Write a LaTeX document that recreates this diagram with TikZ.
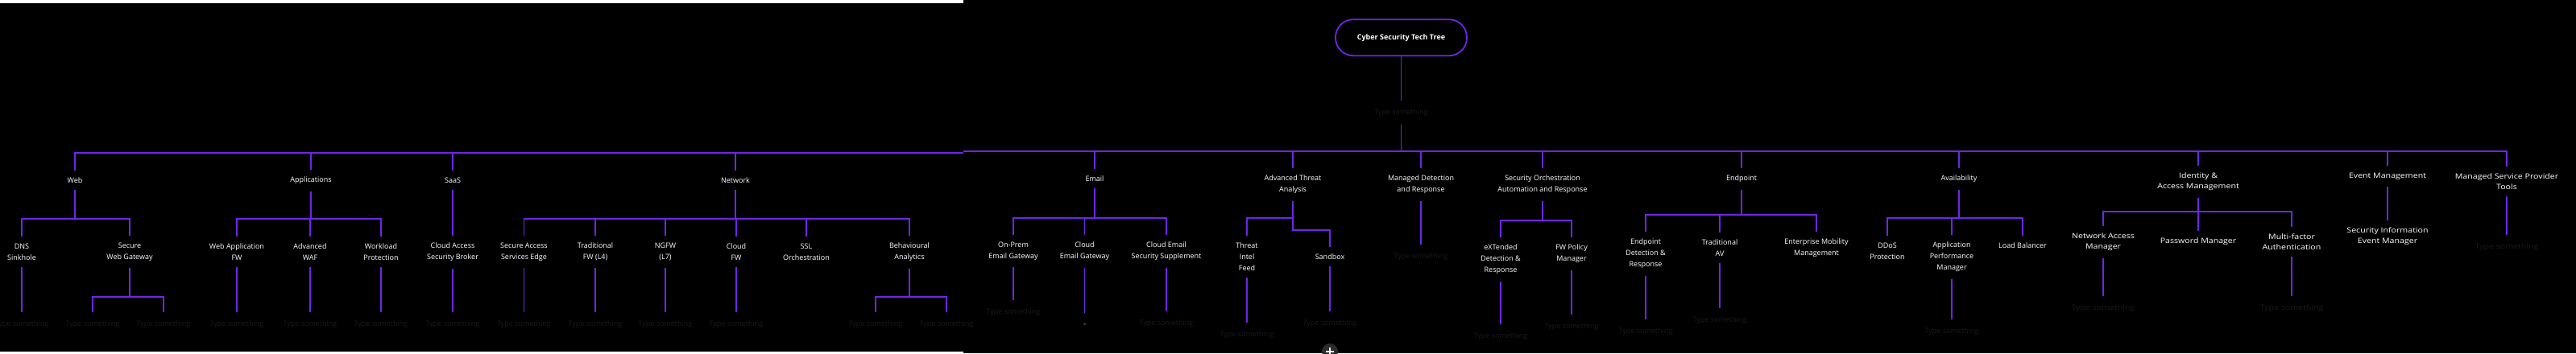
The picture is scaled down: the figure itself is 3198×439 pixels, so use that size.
\documentclass[tikz,border=0pt]{standalone}
\usepackage{fontspec}
\setmainfont{Open Sans}
\newfontfamily\widefont[FakeStretch=1.18]{Open Sans}
\definecolor{vio}{RGB}{110,38,230}
\definecolor{tsgray}{RGB}{26,26,26}
\definecolor{btngray}{RGB}{44,44,44}
\tikzset{
  lbl/.style={text=white, font=\fontsize{9}{14}\selectfont, align=center, inner xsep=2pt, inner ysep=9pt, outer sep=0pt},
  wlbl/.style={lbl, font=\widefont\fontsize{9}{13}\selectfont},
  ts/.style={text=tsgray, font=\fontsize{9}{14}\selectfont, inner xsep=2pt, inner ysep=10.5pt, outer sep=0pt},
  wts/.style={ts, font=\widefont\fontsize{9}{13}\selectfont},
  conn/.style={draw=vio, line width=1.6pt},
  rootbox/.style={draw=vio, line width=1.8pt, rounded corners=22pt, minimum width=163pt, minimum height=45pt, text=white, font=\bfseries\fontsize{9}{11}\selectfont, inner sep=0pt, outer sep=0pt},
  caret/.style={fill=btngray, minimum size=3pt, inner sep=0pt, outer ysep=12pt}
}
\begin{document}
\begin{tikzpicture}[x=1pt,y=-1pt]
\useasboundingbox (0,0) rectangle (3198,439);
\fill[black] (0,0) rectangle (3198,439);
\fill[white] (0,0) rectangle (1196,4);
\fill[white] (0,437) rectangle (1196,439);

% root
\node[rootbox] (root) at (1739.5,46.7) {Cyber Security Tech Tree};
\node[ts] (t0) at (1739.5,140) {Type something};
\coordinate (hub) at (1739.5,188);
\coordinate (jR) at (1196,188);
\coordinate (jL) at (1196,190);
\draw[conn] (root) -- (t0);
\draw[conn] (t0) -- (hub);
\draw[conn] (jR) -- (hub);

% ---------- left part ----------
\node[lbl] (web) at (93,224) {Web};
\node[lbl] (dns) at (27,313) {DNS\\Sinkhole};
\node[lbl] (swg) at (161,313) {Secure\\Web Gateway};
\node[ts] (t1) at (27,403) {Type something};
\node[ts] (t2) at (115,403) {Type something};
\node[ts] (t3) at (203,403) {Type something};

\node[lbl] (apps) at (386,224) {Applications};
\node[lbl] (wafw) at (294,313) {Web Application\\FW};
\node[lbl] (awaf) at (385,313) {Advanced\\WAF};
\node[lbl] (wlp) at (473,313) {Workload\\Protection};
\node[ts] (t4) at (294,403) {Type something};
\node[ts] (t5) at (385,403) {Type something};
\node[ts] (t6) at (473,403) {Type something};

\node[lbl] (saas) at (562,224) {SaaS};
\node[lbl] (casb) at (562,313) {Cloud Access\\Security Broker};
\node[ts] (t7) at (562,403) {Type something};

\node[lbl] (net) at (913,224) {Network};
\node[lbl] (sase) at (650.5,313) {Secure Access\\Services Edge};
\node[lbl] (tfw) at (739,313) {Traditional\\FW (L4)};
\node[lbl] (ngfw) at (826,313) {NGFW\\(L7)};
\node[lbl] (cfw) at (914,313) {Cloud\\FW};
\node[lbl] (ssl) at (1001,313) {SSL\\Orchestration};
\node[lbl] (ba) at (1129,313) {Behavioural\\Analytics};
\node[ts] (t8) at (650.5,403) {Type something};
\node[ts] (t9) at (739,403) {Type something};
\node[ts] (t10) at (826,403) {Type something};
\node[ts] (t11) at (914,403) {Type something};
\node[ts] (t12) at (1087,403) {Type something};
\node[ts] (t13) at (1175,403) {Type something};

\foreach \n in {web,apps,saas,net} \draw[conn] (\n.north) |- (jL);

\coordinate (webJ) at (93,272);
\draw[conn] (web) -- (webJ);
\draw[conn] (dns.north) |- (webJ);
\draw[conn] (swg.north) |- (webJ);
\draw[conn] (dns) -- (t1);
\coordinate (swgJ) at (161,369);
\draw[conn] (swg) -- (swgJ);
\draw[conn] (t2.north) |- (swgJ);
\draw[conn] (t3.north) |- (swgJ);

\coordinate (appsJ) at (386,272);
\draw[conn] (apps) -- (appsJ);
\foreach \n in {wafw,awaf,wlp} \draw[conn] (\n.north) |- (appsJ);
\draw[conn] (wafw) -- (t4);
\draw[conn] (awaf) -- (t5);
\draw[conn] (wlp) -- (t6);

\draw[conn] (saas) -- (casb);
\draw[conn] (casb) -- (t7);

\coordinate (netJ) at (913,272);
\draw[conn] (net) -- (netJ);
\foreach \n in {sase,tfw,ngfw,cfw,ssl,ba} \draw[conn] (\n.north) |- (netJ);
\draw[conn] (sase) -- (t8);
\draw[conn] (tfw) -- (t9);
\draw[conn] (ngfw) -- (t10);
\draw[conn] (cfw) -- (t11);
\coordinate (baJ) at (1129,369);
\draw[conn] (ba) -- (baJ);
\draw[conn] (t12.north) |- (baJ);
\draw[conn] (t13.north) |- (baJ);

% ---------- middle part ----------
\node[lbl] (email) at (1359,222) {Email};
\node[lbl] (onprem) at (1258,312) {On-Prem\\Email Gateway};
\node[lbl] (ceg) at (1346.5,312) {Cloud\\Email Gateway};
\node[lbl] (cess) at (1448,312) {Cloud Email\\Security Supplement};
\node[ts] (t14) at (1258,388) {Type something};
\node[caret] (cegc) at (1346.5,402) {};
\node[ts] (t15) at (1448,402) {Type something};

\node[lbl] (ata) at (1605,229.5) {Advanced Threat\\Analysis};
\node[lbl] (tif) at (1548,319) {Threat\\Intel\\Feed};
\node[lbl] (sandbox) at (1651,319) {Sandbox};
\node[ts] (t16) at (1548,416) {Type something};
\node[ts] (t17) at (1651,402) {Type something};

\node[lbl] (mdr) at (1764,229.5) {Managed Detection\\and Response};
\node[ts] (t18) at (1764,319) {Type something};

\node[lbl] (soar) at (1915,229.5) {Security Orchestration\\Automation and Response};
\node[lbl] (xdr) at (1863,322) {eXTended\\Detection \&\\Response};
\node[lbl] (fwpm) at (1951,315) {FW Policy\\Manager};
\node[ts] (t19) at (1863,418) {Type something};
\node[ts] (t20) at (1951,406) {Type something};

\node[lbl] (endp) at (2162,222) {Endpoint};
\node[lbl] (edr) at (2043,315) {Endpoint\\Detection \&\\Response};
\node[lbl] (tav) at (2135,308) {Traditional\\AV};
\node[lbl] (emm) at (2255,308) {Enterprise Mobility\\Management};
\node[ts] (t21) at (2043,412) {Type something};
\node[ts] (t22) at (2135,398) {Type something};

\node[lbl] (avail) at (2432,222) {Availability};
\node[lbl] (ddos) at (2343,312) {DDoS\\Protection};
\node[lbl] (apm) at (2423,319) {Application\\Performance\\Manager};
\node[lbl] (lb) at (2511,305) {Load Balancer};
\node[ts] (t23) at (2423,412) {Type something};

% ---------- far right part ----------
\node[wlbl] (iam) at (2729,225.5) {Identity \&\\Access Management};
\node[wlbl] (pwm) at (2729,300) {Password Manager};
\node[wlbl] (nam) at (2611,300.5) {Network Access\\Manager};
\node[wlbl] (mfa) at (2845,300.5) {Multi-factor\\Authentication};
\node[wts] (t24) at (2611,383) {Type something};
\node[wts] (t25) at (2845,383) {Type something};

\node[wlbl] (evm) at (2964,219) {Event Management};
\node[wlbl] (siem) at (2964,294) {Security Information\\Event Manager};

\node[wlbl] (msp) at (3112,225.5) {Managed Service Provider\\Tools};
\node[wts] (t26) at (3112,307) {Type something};

\foreach \n in {email,ata,mdr,soar,endp,avail,iam,evm,msp} \draw[conn] (\n.north) |- (hub);

\coordinate (emailJ) at (1359,271);
\draw[conn] (email) -- (emailJ);
\foreach \n in {onprem,ceg,cess} \draw[conn] (\n.north) |- (emailJ);
\draw[conn] (onprem) -- (t14);
\draw[conn] (ceg) -- (cegc);
\draw[conn] (cess) -- (t15);

\coordinate (ataJ) at (1605,271);
\coordinate (ataK) at (1605,286);
\draw[conn] (ata) -- (ataJ);
\draw[conn] (tif.north) |- (ataJ);
\draw[conn] (ataJ) -- (ataK) -| (sandbox.north);
\draw[conn] (tif) -- (t16);
\draw[conn] (sandbox) -- (t17);

\draw[conn] (mdr) -- (t18);

\coordinate (soarJ) at (1915,274);
\draw[conn] (soar) -- (soarJ);
\draw[conn] (xdr.north) |- (soarJ);
\draw[conn] (fwpm.north) |- (soarJ);
\draw[conn] (xdr) -- (t19);
\draw[conn] (fwpm) -- (t20);

\coordinate (endpJ) at (2162,267);
\draw[conn] (endp) -- (endpJ);
\foreach \n in {edr,tav,emm} \draw[conn] (\n.north) |- (endpJ);
\draw[conn] (edr) -- (t21);
\draw[conn] (tav) -- (t22);

\coordinate (availJ) at (2432,271);
\draw[conn] (avail) -- (availJ);
\foreach \n in {ddos,apm,lb} \draw[conn] (\n.north) |- (availJ);
\draw[conn] (apm) -- (t23);

\coordinate (iamJ) at (2729,263);
\draw[conn] (iam) -- (pwm);
\draw[conn] (nam.north) |- (iamJ);
\draw[conn] (mfa.north) |- (iamJ);
\draw[conn] (nam) -- (t24);
\draw[conn] (mfa) -- (t25);

\draw[conn] (evm) -- (siem);
\draw[conn] (msp) -- (t26);

% add button
\fill[btngray] (1651,437) circle (10);
\draw[white, line width=1.6pt] (1646,437) -- (1656,437) (1651,432) -- (1651,442);
\end{tikzpicture}
\end{document}
